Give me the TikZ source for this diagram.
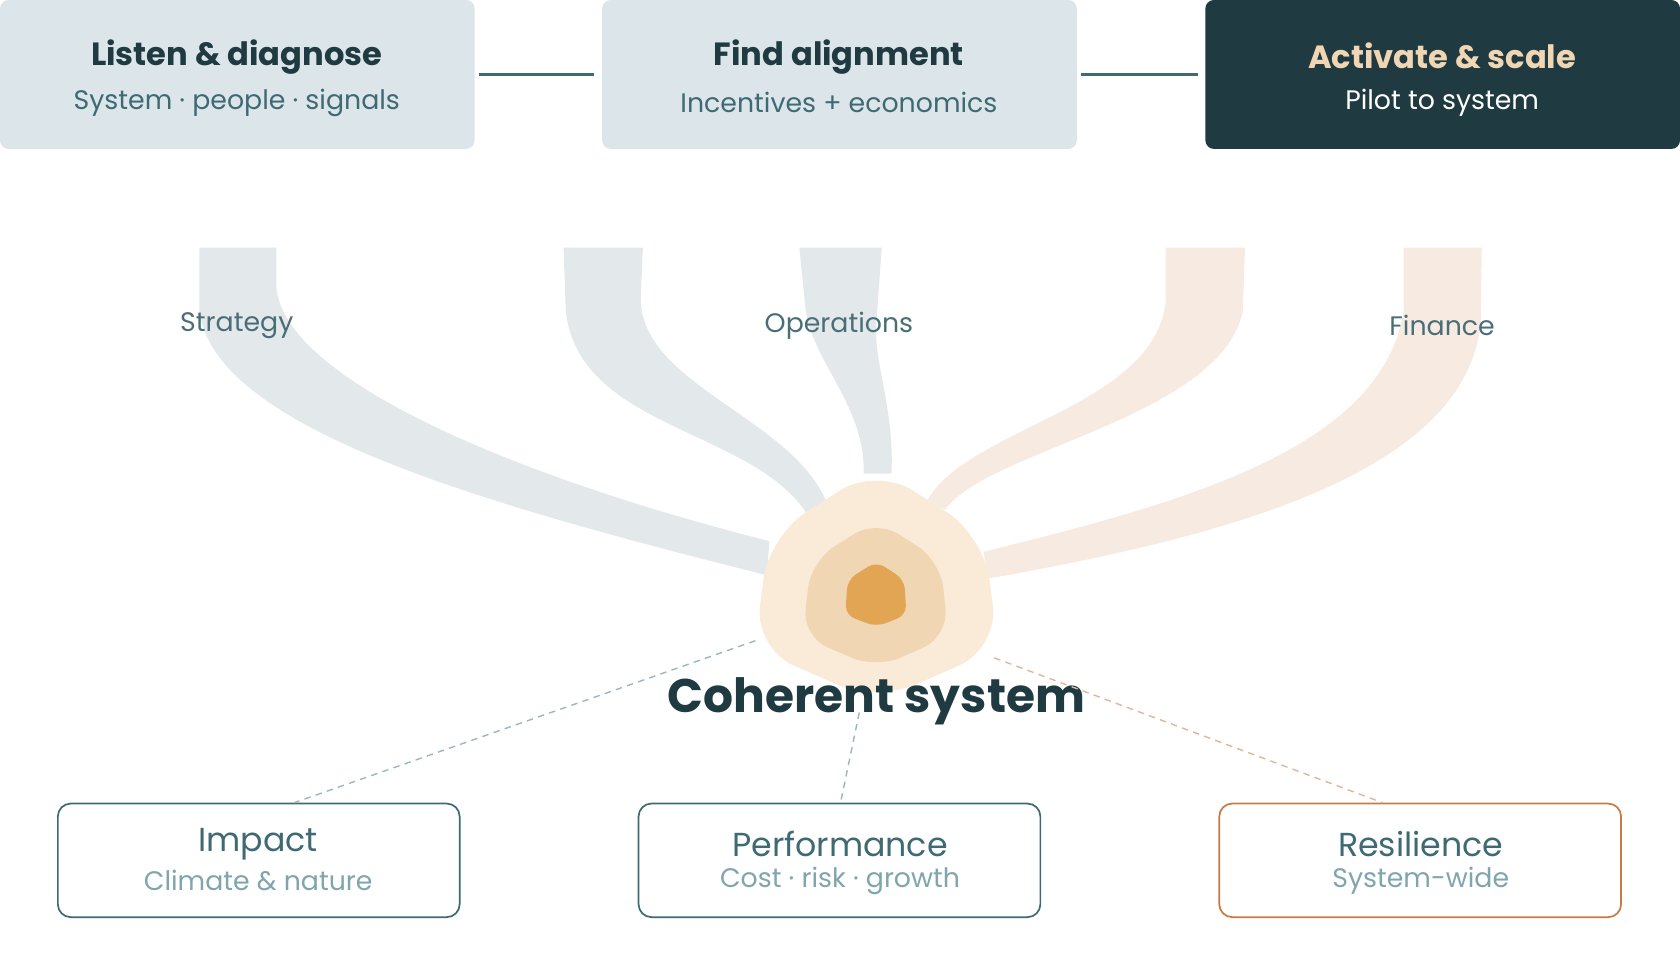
\documentclass[tikz,border=0pt]{standalone}
\usepackage{fontspec}
\setmainfont{Poppins}
\begin{document}
\begin{tikzpicture}[x=1pt,y=-1pt,
 topbox/.style={rounded corners=8pt,minimum width=443pt,minimum height=139pt,inner sep=0pt},
 botbox/.style={rounded corners=12pt,minimum width=375pt,minimum height=106pt,fill=white,line width=1.6pt,inner sep=0pt},
 ttl/.style={font=\fontsize{30}{34}\selectfont\bfseries,text=c1},
 sub/.style={font=\fontsize{25}{30}\selectfont,text=c2},
 btl/.style={font=\fontsize{31}{36}\selectfont,text=c2},
 bsub/.style={font=\fontsize{25}{30}\selectfont,text=c3},
 lab/.style={font=\fontsize{25}{30}\selectfont,text=c4},
 link/.style={line width=2.2pt,draw=c2},
 dsh/.style={line width=1.3pt,dash pattern=on 6pt off 5pt}]
\definecolor{c1}{HTML}{1F3A40}
\definecolor{c2}{HTML}{3F6A73}
\definecolor{c3}{HTML}{7FA5AD}
\definecolor{c4}{HTML}{4A6E77}
\definecolor{lb}{HTML}{DCE6EA}
\definecolor{gb}{HTML}{E3E9EB}
\definecolor{pb}{HTML}{F7EBE1}
\definecolor{o1}{HTML}{FAEBD9}
\definecolor{o2}{HTML}{F1D6B4}
\definecolor{o3}{HTML}{E2A553}
\definecolor{or}{HTML}{C97A40}
\useasboundingbox (0,0) rectangle (1568,896);
% top boxes
\node[topbox,fill=lb] (b1) at (221.5,69.5) {};
\node[topbox,fill=lb] (b2) at (783.5,69.5) {};
\node[topbox,fill=c1] (b3) at (1346.5,69.5) {};
\node[ttl] (t1) at (221,53) {Listen \& diagnose};
\node[sub] (s1) at (221,96) {System · people · signals};
\node[ttl] (t2) at (783,53) {Find alignment};
\node[sub] (s2) at (783,96) {Incentives + economics};
\node[ttl,text=o2] (t3) at (1346,52) {Activate \& scale};
\node[sub,text=white] (s3) at (1346,96) {Pilot to system};
\draw[link] ([xshift=4pt]b1.east) -- ([xshift=-7pt]b2.west);
\draw[link] ([xshift=4pt]b2.east) -- ([xshift=-7pt]b3.west);
% bands
\fill[gb] (186,231)--(186,290) .. controls (200,400) and (450,470) .. (716,537)
 -- (718,505) .. controls (500,450) and (270,360) .. (258,270) -- (258,231) -- cycle;
\fill[gb] (526,231)--(528,290) .. controls (540,400) and (700,400) .. (752,478)
 -- (772,470) .. controls (740,390) and (600,360) .. (598,280) -- (600,231) -- cycle;
\fill[gb] (746,231)--(752,290) .. controls (760,340) and (808,380) .. (806,442)
 -- (832,442) .. controls (835,380) and (815,340) .. (818,300) -- (823,231) -- cycle;
\fill[pb] (1088,231)--(1088,280) .. controls (1080,380) and (900,400) .. (865,468)
 -- (882,476) .. controls (920,420) and (1140,390) .. (1160,290) -- (1162,231) -- cycle;
\fill[pb] (1310,231)--(1310,290) .. controls (1290,420) and (1100,470) .. (918,515)
 -- (922,540) .. controls (1150,500) and (1370,440) .. (1382,300) -- (1383,231) -- cycle;
\node[lab] (l1) at (221,304) {Strategy};
\node[lab] (l2) at (783,304) {Operations};
\node[lab] (l3) at (1346,304) {Finance};
% core
\fill[o1,rounded corners=40pt] (818,436)--(718,500)--(704,605)--(818,655)--(932,605)--(918,500)--cycle;
\fill[o2,rounded corners=25pt] (818,485)--(757,524)--(749,594)--(818,624)--(885,594)--(878,524)--cycle;
\fill[o3,rounded corners=9pt] (818,524)--(791,541)--(789,574)--(818,585)--(846,574)--(844,541)--cycle;
\node[font=\fontsize{44}{50}\selectfont\bfseries,text=c1] (coh) at (818,655) {Coherent system};
% bottom boxes
\node[botbox,draw=c2] (p1) at (241.5,803) {};
\node[botbox,draw=c2] (p2) at (783.5,803) {};
\node[botbox,draw=or] (p3) at (1325.5,803) {};
\node[btl] (pt1) at (241,788) {Impact};
\node[bsub] (ps1) at (241,822) {Climate \& nature};
\node[btl] (pt2) at (784,788) {Performance};
\node[bsub] (ps2) at (784,822) {Cost · risk · growth};
\node[btl] (pt3) at (1326,788) {Resilience};
\node[bsub] (ps3) at (1326,822) {System-wide};
\coordinate (d1) at (705,598);
\coordinate (d2) at (802,665);
\coordinate (d3) at (928,614);
\draw[dsh,draw=c3!80] (d1) -- ([xshift=33pt]p1.north);
\draw[dsh,draw=c3!80] (d2) -- ([xshift=1pt]p2.north);
\draw[dsh,draw=or!55] (d3) -- ([xshift=-35pt]p3.north);
\end{tikzpicture}
\end{document}
